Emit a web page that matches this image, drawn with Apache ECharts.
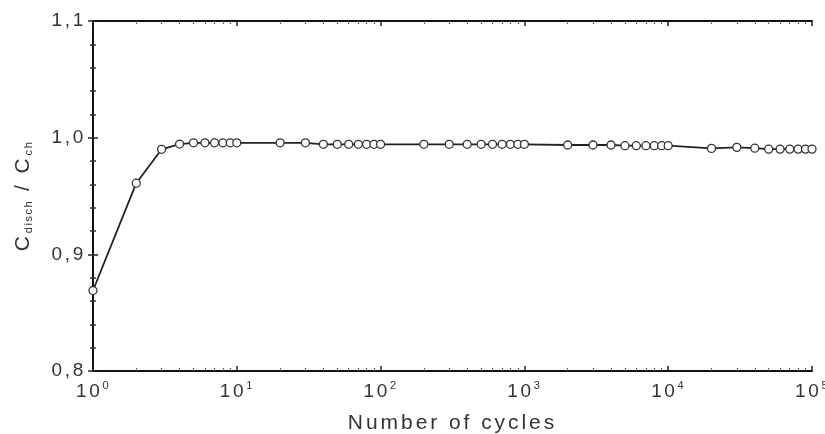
<!DOCTYPE html>
<html>
<head>
<meta charset="utf-8">
<script src="https://cdn.jsdelivr.net/npm/echarts@6/dist/echarts.min.js"></script>
<style>html,body{margin:0;padding:0;background:#fff;}#c{width:825px;height:434px;}</style>
</head>
<body>
<div id="c"></div>
<script>
var cycles = [1,2,3,4,5,6,7,8,9,10,20,30,40,50,60,70,80,90,100,200,300,400,500,600,700,800,900,1000,2000,3000,4000,5000,6000,7000,8000,9000,10000,20000,30000,40000,50000,60000,70000,80000,90000,100000];
var ratio = [0.869,0.961,0.990,0.9945,0.9956,0.9956,0.9956,0.9956,0.9956,0.9956,0.9956,0.9956,0.9943,0.9943,0.9943,0.9943,0.9943,0.9943,0.9943,0.9943,0.9943,0.9943,0.9943,0.9943,0.9943,0.9943,0.9943,0.9943,0.9937,0.9937,0.9937,0.9931,0.9931,0.9931,0.9931,0.9931,0.9931,0.9908,0.9917,0.991,0.9902,0.9902,0.9902,0.9902,0.9902,0.9902];
var yTicks = [0.8, 0.9, 1.0, 1.1];
var xDecades = [1,10,100,1000,10000];
var xMinorMult = [2,3,4,5,6,7,8,9];

// wide letter spacing like the scanned figure's lettering
(function(){
  var P = CanvasRenderingContext2D.prototype;
  var ft = P.fillText, mt = P.measureText;
  function ls(ctx){
    try {
      var m = /(\d+(?:\.\d+)?)px/.exec(ctx.font || '');
      var s = m ? parseFloat(m[1]) : 12;
      ctx.letterSpacing = (s * 0.14).toFixed(2) + 'px';
    } catch(e) {}
  }
  P.fillText = function(){ ls(this); return ft.apply(this, arguments); };
  P.measureText = function(){ ls(this); return mt.apply(this, arguments); };
})();

var xMinorLog = [];
xDecades.forEach(function(d){ xMinorMult.forEach(function(k){ xMinorLog.push(Math.log10(k*d)); }); });

var txt = '#333';
var font = 'Liberation Sans';
var chart = echarts.init(document.getElementById('c'), null, {renderer:'canvas'});
var data = cycles.map(function(c,i){ return [c, ratio[i]]; });
function xLabel(v){ return '10{sup|' + Math.round(Math.log10(v)) + '}'; }
var majorTick = {show:true, inside:true, length:5, lineStyle:{color:'#222', width:1.5}};
function minorAxis(pos){
  return {type:'value', min:0, max:5, position:pos, gridIndex:0,
    axisLine:{show:false}, axisLabel:{show:false}, splitLine:{show:false},
    axisTick:{show:true, inside:true, length:3, customValues:xMinorLog, lineStyle:{color:'#666', width:1.2}}};
}
chart.setOption({
  animation:false,
  backgroundColor:'#fff',
  grid:{left:93, right:13, top:21, bottom:63, containLabel:false, outerBoundsMode:'none'},
  xAxis:[
    {type:'log', logBase:10, min:1, max:100000, position:'bottom', splitLine:{show:false},
      name:'Number of cycles', nameLocation:'middle', nameGap:40,
      nameTextStyle:{fontFamily:font, fontSize:21, color:txt},
      axisLine:{show:true, lineStyle:{color:'#111', width:2}},
      axisTick:majorTick,
      axisLabel:{show:true, margin:9, formatter:xLabel, fontFamily:font, fontSize:19, color:txt,
        rich:{sup:{fontFamily:font, fontSize:11, color:txt, verticalAlign:'top', padding:[0,0,10,0]}}}
    },
    minorAxis('bottom'),
    {type:'log', logBase:10, min:1, max:100000, position:'top', splitLine:{show:false},
      axisLine:{show:true, lineStyle:{color:'#111', width:2}}, axisLabel:{show:false},
      axisTick:majorTick},
    minorAxis('top')
  ],
  yAxis:[
    {type:'value', min:0.8, max:1.1, interval:0.1, position:'left',
      name:'C{sub|disch} / C{sub|ch}', nameLocation:'middle', nameGap:58, nameRotate:90,
      nameTextStyle:{fontFamily:font, fontSize:21, color:txt,
        rich:{sub:{fontFamily:font, fontSize:11, color:txt, verticalAlign:'bottom', padding:[9,0,0,0]}}},
      axisLine:{show:true, lineStyle:{color:'#111', width:2}},
      axisTick:majorTick,
      minorTick:{show:true, splitNumber:5, length:3, lineStyle:{color:'#333', width:1.5}},
      splitLine:{show:false},
      axisLabel:{show:true, margin:7, fontFamily:font, fontSize:19, color:txt,
        customValues:yTicks,
        formatter:function(v){ return v.toFixed(1).replace('.', ','); }}
    },
    {type:'value', min:0.8, max:1.1, interval:0.1, position:'right',
      axisLine:{show:true, lineStyle:{color:'#111', width:2}},
      axisTick:majorTick,
      minorTick:{show:true, splitNumber:5, length:3, lineStyle:{color:'#333', width:1.5}},
      splitLine:{show:false}, axisLabel:{show:false}
    }
  ],
  series:[{
    type:'line', xAxisIndex:0, yAxisIndex:0, data:data,
    symbol:'circle', symbolSize:8, showSymbol:true,
    lineStyle:{color:'#222', width:1.8},
    itemStyle:{color:'#fff', borderColor:'#333', borderWidth:1.3},
    clip:false
  }]
});
</script>
</body>
</html>
